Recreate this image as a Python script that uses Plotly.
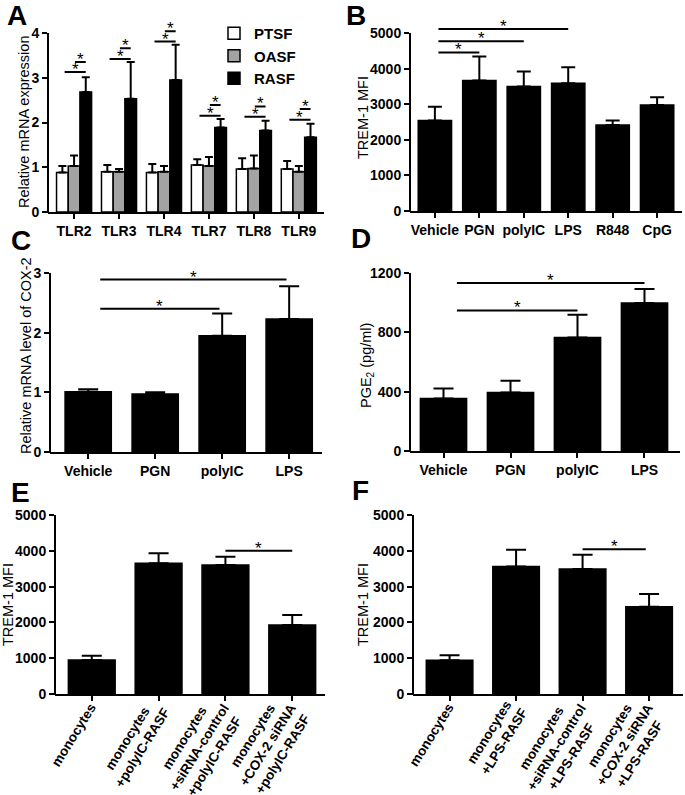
import math
import plotly.graph_objects as go

W, H = 685, 795
FONT = "Liberation Sans"

# ---------------- Panel A data ----------------
a_cats = ["TLR2", "TLR3", "TLR4", "TLR7", "TLR8", "TLR9"]
a_series = ["PTSF", "OASF", "RASF"]
a_ptsf = [0.88, 0.90, 0.88, 1.05, 0.96, 0.96]
a_ptsf_err = [0.15, 0.15, 0.19, 0.13, 0.24, 0.18]
a_oasf = [1.03, 0.90, 0.90, 1.03, 0.97, 0.90]
a_oasf_err = [0.23, 0.06, 0.13, 0.20, 0.29, 0.13]
a_rasf = [2.68, 2.53, 2.95, 1.89, 1.82, 1.67]
a_rasf_err = [0.33, 0.82, 0.79, 0.19, 0.22, 0.30]
a_sig_ptsf_rasf = [3.13, 3.42, 3.81, 2.15, 2.13, 2.06]
a_sig_oasf_rasf = [3.35, 3.66, 4.04, 2.39, 2.36, 2.30]
a_yticks = [0, 1, 2, 3, 4]

# ---------------- Panel B data ----------------
b_cats = ["Vehicle", "PGN", "polyIC", "LPS", "R848", "CpG"]
b_vals = [2540, 3665, 3500, 3590, 2415, 2980]
b_err = [390, 675, 420, 450, 125, 215]
b_sig_to = ["PGN", "polyIC", "LPS"]
b_sig_h = [4455, 4765, 5110]
b_yticks = [0, 1000, 2000, 3000, 4000, 5000]

# ---------------- Panel C data ----------------
c_cats = ["Vehicle", "PGN", "polyIC", "LPS"]
c_vals = [1.01, 0.97, 1.95, 2.23]
c_err = [0.04, 0.03, 0.37, 0.55]
c_sig_to = ["polyIC", "LPS"]
c_sig_h = [2.40, 2.89]
c_yticks = [0, 1, 2, 3]

# ---------------- Panel D data ----------------
d_cats = ["Vehicle", "PGN", "polyIC", "LPS"]
d_vals = [354, 395, 765, 997]
d_err = [68, 79, 153, 95]
d_sig_to = ["polyIC", "LPS"]
d_sig_h = [948, 1133]
d_yticks = [0, 400, 800, 1200]

# ---------------- Panel E data ----------------
e_cats = ["monocytes", "monocytes<br>+polyIC-RASF",
          "monocytes<br>+siRNA-control<br>+polyIC-RASF",
          "monocytes<br>+COX-2 siRNA<br>+polyIC-RASF"]
e_vals = [950, 3650, 3605, 1930]
e_err = [120, 280, 231, 280]
e_sig_h = 4000
e_yticks = [0, 1000, 2000, 3000, 4000, 5000]

# ---------------- Panel F data ----------------
f_cats = ["monocytes", "monocytes<br>+LPS-RASF",
          "monocytes<br>+siRNA-control<br>+LPS-RASF",
          "monocytes<br>+COX-2 siRNA<br>+LPS-RASF"]
f_vals = [940, 3560, 3490, 2440]
f_err = [140, 470, 400, 350]
f_sig_h = 4040
f_yticks = [0, 1000, 2000, 3000, 4000, 5000]

fig = go.Figure()
shapes = []
annotations = []
layout = {}


def setup_axes(idx, xpx, xrange, p0, pt, top, ymax, yticks, ticktext, tickvals,
               ytitle, ytitle_x, ytitle_y, letter, letter_xy, show_xlabels=True):
    xa = "xaxis" if idx == 1 else f"xaxis{idx}"
    ya = "yaxis" if idx == 1 else f"yaxis{idx}"
    xr = "x" if idx == 1 else f"x{idx}"
    yr = "y" if idx == 1 else f"y{idx}"
    ptop = p0 - (p0 - pt) * ymax / top
    ydom = [1 - p0 / H, 1 - ptop / H]
    xdom = [xpx[0] / W, xpx[1] / W]
    layout[xa] = dict(domain=xdom, range=xrange, anchor=yr, showgrid=False,
                      zeroline=False, showline=True, linecolor="black", linewidth=2,
                      ticks="outside", ticklen=5, tickwidth=2, tickcolor="black",
                      tickvals=tickvals, ticktext=ticktext, automargin=False,
                      showticklabels=show_xlabels,
                      tickfont=dict(family=FONT, size=14, color="black", weight="bold"),
                      fixedrange=True)
    layout[ya] = dict(domain=ydom, range=[0, ymax], anchor=xr, showgrid=False,
                      zeroline=False, showline=False, ticks="outside", ticklen=5,
                      tickwidth=2, tickcolor="black", tickvals=yticks, automargin=False,
                      tickfont=dict(family=FONT, size=14, color="black", weight="bold"),
                      fixedrange=True)
    # y axis line from 0 up to the top tick
    y_top_paper = 1 - pt / H
    shapes.append(dict(type="line", xref="paper", yref="paper",
                       x0=xdom[0], x1=xdom[0], y0=ydom[0] - 1 / H, y1=y_top_paper,
                       line=dict(color="black", width=2)))
    annotations.append(dict(text=ytitle, textangle=-90, xref="paper", yref="paper",
                            x=ytitle_x / W, y=1 - ytitle_y / H, showarrow=False,
                            xanchor="center", yanchor="middle",
                            font=dict(family=FONT, size=14.5, color="black")))
    annotations.append(dict(text=letter, xref="paper", yref="paper",
                            x=letter_xy[0] / W, y=1 - letter_xy[1] / H, showarrow=False,
                            xanchor="left", yanchor="top",
                            font=dict(family=FONT, size=28, color="black", weight="bold")))
    return xr, yr


def sig(xr, yr, x0, x1, y):
    shapes.append(dict(type="line", xref=xr, yref=yr, x0=x0, x1=x1, y0=y, y1=y,
                       line=dict(color="black", width=2)))
    annotations.append(dict(text="*", xref=xr, yref=yr, x=(x0 + x1) / 2, y=y,
                            showarrow=False, yanchor="bottom", yshift=-9,
                            font=dict(family=FONT, size=17, color="black")))


def rotated_labels(xr, yr, labels, fs=13.5, ang=58):
    s, c = math.sin(math.radians(ang)), math.cos(math.radians(ang))
    for i, lab in enumerate(labels):
        n = lab.count("<br>") + 1
        hb = n * 1.3 * fs
        annotations.append(dict(text=lab, textangle=-ang, align="center",
                                xref=xr, yref=f"{yr} domain", x=i, y=0,
                                xanchor="right", yanchor="top",
                                xshift=s * hb / 2 + 2, yshift=c * hb / 2 - 9,
                                showarrow=False,
                                font=dict(family=FONT, size=fs, color="black",
                                          weight="bold")))


def err(arr, w):
    return dict(type="data", array=arr, arrayminus=[0] * len(arr), symmetric=False,
                color="black", thickness=2, width=w)


# ---------------- Panel A ----------------
xr, yr = setup_axes(1, (48, 324), [-0.58, 5.56], 212, 33, 4, 4.45, a_yticks,
                    a_cats, list(range(len(a_cats))),
                    "Relative mRNA expression", 24, 122, "A", (5, -2))
a_vals = [a_ptsf, a_oasf, a_rasf]
a_errs = [a_ptsf_err, a_oasf_err, a_rasf_err]
a_colors = ["white", "#a3a3a3", "black"]
for name, v, e, c in zip(a_series, a_vals, a_errs, a_colors):
    fig.add_trace(go.Bar(x=list(range(len(a_cats))), y=v, name=name, marker_color=c,
                         marker_line=dict(color="black", width=1.5),
                         error_y=err(e, 4), xaxis=xr, yaxis=yr, showlegend=True))
bw = 0.78 / 3
for i in range(len(a_cats)):
    sig(xr, yr, i - bw + 0.05, i + bw, a_sig_ptsf_rasf[i])
    sig(xr, yr, i + 0.02, i + bw, a_sig_oasf_rasf[i])

# ---------------- Panel B ----------------
xr, yr = setup_axes(2, (410, 682), [-0.56, 5.56], 211, 33, 5000, 5400, b_yticks,
                    b_cats, list(range(len(b_cats))),
                    "TREM-1 MFI", 363, 118, "B", (344, -2))
fig.add_trace(go.Bar(x=list(range(len(b_cats))), y=b_vals, marker_color="black",
                     marker_line=dict(color="black", width=1.5), width=0.75,
                     error_y=err(b_err, 7), xaxis=xr, yaxis=yr, showlegend=False))
for t, h in zip(b_sig_to, b_sig_h):
    sig(xr, yr, 0.08, b_cats.index(t), h)

# ---------------- Panel C ----------------
xr, yr = setup_axes(3, (50, 322), [-0.57, 3.49], 452, 273, 3, 3.0, c_yticks,
                    c_cats, list(range(len(c_cats))),
                    "Relative mRNA level of COX-2", 26, 356, "C", (9, 223))
fig.add_trace(go.Bar(x=list(range(len(c_cats))), y=c_vals, marker_color="black",
                     marker_line=dict(color="black", width=1.5), width=0.69,
                     error_y=err(c_err, 10), xaxis=xr, yaxis=yr, showlegend=False))
for t, h in zip(c_sig_to, c_sig_h):
    sig(xr, yr, 0.18, c_cats.index(t) - 0.04, h)

# ---------------- Panel D ----------------
xr, yr = setup_axes(4, (410, 680), [-0.5, 3.53], 451, 273, 1200, 1200, d_yticks,
                    d_cats, list(range(len(d_cats))),
                    "PGE<sub>2</sub> (pg/ml)", 367, 366, "D", (349, 221))
fig.add_trace(go.Bar(x=list(range(len(d_cats))), y=d_vals, marker_color="black",
                     marker_line=dict(color="black", width=1.5), width=0.69,
                     error_y=err(d_err, 10), xaxis=xr, yaxis=yr, showlegend=False))
for t, h in zip(d_sig_to, d_sig_h):
    sig(xr, yr, 0.2, d_cats.index(t), h)

# ---------------- Panel E ----------------
xr, yr = setup_axes(5, (55, 325), [-0.55, 3.49], 694, 515, 5000, 5000, e_yticks,
                    e_cats, list(range(len(e_cats))),
                    "TREM-1 MFI", 8, 605, "E", (9, 475), show_xlabels=False)
fig.add_trace(go.Bar(x=list(range(len(e_cats))), y=e_vals, marker_color="black",
                     marker_line=dict(color="black", width=1.5), width=0.7,
                     error_y=err(e_err, 10), xaxis=xr, yaxis=yr, showlegend=False))
sig(xr, yr, 2.0, 3.0, e_sig_h)
rotated_labels(xr, yr, e_cats)

# ---------------- Panel F ----------------
xr, yr = setup_axes(6, (413, 683), [-0.55, 3.51], 694, 515, 5000, 5000, f_yticks,
                    f_cats, list(range(len(f_cats))),
                    "TREM-1 MFI", 363, 605, "F", (350, 473), show_xlabels=False)
fig.add_trace(go.Bar(x=list(range(len(f_cats))), y=f_vals, marker_color="black",
                     marker_line=dict(color="black", width=1.5), width=0.7,
                     error_y=err(f_err, 10), xaxis=xr, yaxis=yr, showlegend=False))
sig(xr, yr, 2.0, 2.95, f_sig_h)
rotated_labels(xr, yr, f_cats)

fig.update_layout(
    width=W, height=H, margin=dict(l=0, r=0, t=0, b=0, autoexpand=False),
    paper_bgcolor="white", plot_bgcolor="white",
    barmode="group", bargap=0.22, bargroupgap=0,
    shapes=shapes, annotations=annotations,
    legend=dict(x=214 / W, y=1 - 17 / H, xanchor="left", yanchor="top",
                bgcolor="rgba(0,0,0,0)", tracegroupgap=0,
                font=dict(family=FONT, size=15, color="black", weight="bold")),
    **layout,
)

fig.write_html("out.html", config={"displayModeBar": False},
               post_script="document.body.style.margin='0';document.body.style.overflow='hidden';")
